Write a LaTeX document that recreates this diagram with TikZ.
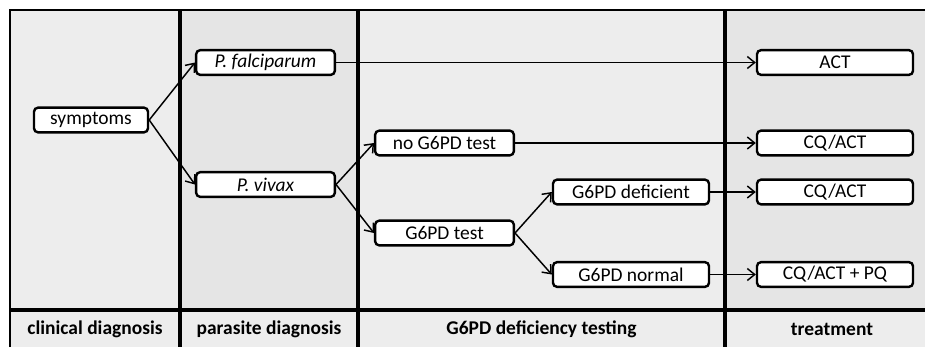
\documentclass[tikz,border=0pt]{standalone}
\usepackage{fontspec}
\setmainfont{Carlito}
\usetikzlibrary{arrows.meta}

\definecolor{bglight}{HTML}{EDEDED}
\definecolor{bgdark}{HTML}{E5E5E5}

\begin{document}
\begin{tikzpicture}[x=0.75pt, y=-0.75pt,
    box/.style={draw, line width=1.8pt, fill=white, rounded corners=3pt,
        minimum height=18.5pt, inner sep=0pt, font=\fontsize{14.6}{16}\selectfont},
    lead/.style={-{Straight Barb[length=5.5pt,width=9pt]}, line width=1.1pt},
    head/.style={font=\fontsize{14.6}{16}\selectfont\bfseries}]
    \useasboundingbox (0,0) rectangle (925,347);
    % stage columns
    \fill[bglight] (10,10) rectangle (180,347);
    \fill[bgdark] (180,10) rectangle (358,347);
    \fill[bglight] (358,10) rectangle (725,347);
    \fill[bgdark] (725,10) rectangle (925,347);
    \fill[bglight] (10,310) rectangle (925,347);
    \draw[line width=1.8pt] (10,347) -- (10,10) -- (925,10);
    \draw[line width=2.4pt] (10,310) -- (925,310);
    \foreach \x in {180,358,725}
        \draw[line width=2.6pt] (\x,10) -- (\x,347);
    % boxes
    \node[box, minimum width=85.5pt] (symptoms) at (91,120) {symptoms};
    \node[box, minimum width=104pt] (falciparum) at (265.5,62.5) {\itshape P. falciparum};
    \node[box, minimum width=104pt] (vivax) at (265.5,184.5) {\itshape P. vivax};
    \node[box, minimum width=104pt] (notest) at (444.5,143) {no G6PD test};
    \node[box, minimum width=104pt] (test) at (444.5,233) {G6PD test};
    \node[box, minimum width=117pt] (deficient) at (631,192) {G6PD deficient};
    \node[box, minimum width=117pt] (normal) at (631,274.5) {G6PD normal};
    \node[box, minimum width=117pt] (act) at (835,62.5) {ACT};
    \node[box, minimum width=117pt] (cqact) at (835,143) {CQ/ACT};
    \node[box, minimum width=117pt] (cqactdef) at (835,192) {CQ/ACT};
    \node[box, minimum width=117pt] (cqactpq) at (835,274.5) {CQ/ACT + PQ};
    % connections
    \draw[lead] (symptoms.east) -- (falciparum.west);
    \draw[lead] (symptoms.east) -- (vivax.west);
    \draw[lead] (falciparum.east) -- (act.west);
    \draw[lead] (vivax.east) -- (notest.west);
    \draw[lead] (vivax.east) -- (test.west);
    \draw[lead] (notest.east) -- (cqact.west);
    \draw[lead] (test.east) -- (deficient.west);
    \draw[lead] (test.east) -- (normal.west);
    \draw[lead] (deficient.east) -- (cqactdef.west);
    \draw[lead] (normal.east) -- (cqactpq.west);
    % stage labels
    \node[head] (clinical) at (95,329) {clinical diagnosis};
    \node[head] (parasite) at (269,329) {parasite diagnosis};
    \node[head] (testing) at (541.5,329) {G6PD deficiency testing};
    \node[head] (treatment) at (832,329) {treatment};
\end{tikzpicture}
\end{document}
